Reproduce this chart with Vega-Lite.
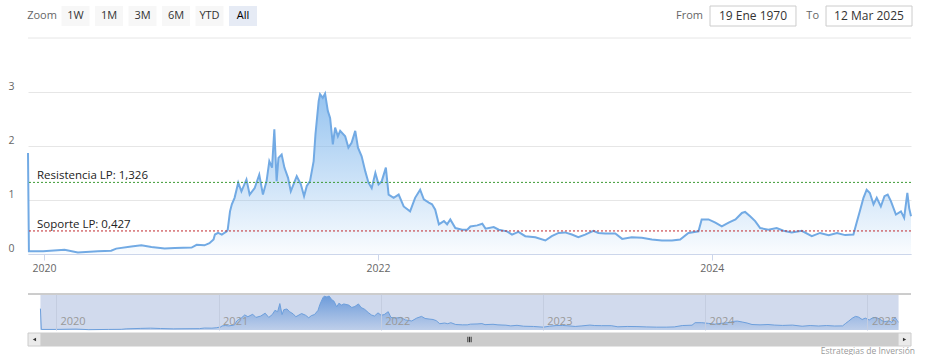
{
  "$schema": "https://vega.github.io/schema/vega-lite/v6.json",
  "background": "white",
  "padding": {"left": 7, "top": 5, "right": 0, "bottom": 0},
  "config": {"font": "Open Sans", "view": {"stroke": null}},
  "title": {"text": "Estrategias de Inversión", "orient": "bottom", "anchor": "end", "fontSize": 8.5, "fontWeight": "normal", "color": "#999999", "offset": 0},
  "datasets": {
    "series": [
      {"date":"2019-11-27","v":1.87},{"date":"2019-11-29","v":0.05},{"date":"2019-12-30","v":0.05},{"date":"2020-02-15","v":0.08},{"date":"2020-03-15","v":0.03},{"date":"2020-04-28","v":0.05},{"date":"2020-05-27","v":0.06},{"date":"2020-06-07","v":0.10},{"date":"2020-07-10","v":0.14},{"date":"2020-08-01","v":0.16},{"date":"2020-08-23","v":0.13},{"date":"2020-09-21","v":0.10},{"date":"2020-10-13","v":0.11},{"date":"2020-11-19","v":0.12},{"date":"2020-11-30","v":0.17},{"date":"2020-12-17","v":0.16},{"date":"2020-12-28","v":0.20},{"date":"2021-01-06","v":0.27},{"date":"2021-01-09","v":0.36},{"date":"2021-01-16","v":0.39},{"date":"2021-01-24","v":0.36},{"date":"2021-02-04","v":0.42},{"date":"2021-02-06","v":0.45},{"date":"2021-02-11","v":0.79},{"date":"2021-02-15","v":0.92},{"date":"2021-02-21","v":1.04},{"date":"2021-03-01","v":1.32},{"date":"2021-03-08","v":1.16},{"date":"2021-03-19","v":1.38},{"date":"2021-03-26","v":1.10},{"date":"2021-04-06","v":1.22},{"date":"2021-04-16","v":1.47},{"date":"2021-04-24","v":1.10},{"date":"2021-05-02","v":1.35},{"date":"2021-05-08","v":1.72},{"date":"2021-05-14","v":1.60},{"date":"2021-05-19","v":2.31},{"date":"2021-05-24","v":1.35},{"date":"2021-05-28","v":1.78},{"date":"2021-06-04","v":1.84},{"date":"2021-06-10","v":1.60},{"date":"2021-06-18","v":1.41},{"date":"2021-06-24","v":1.16},{"date":"2021-07-07","v":1.44},{"date":"2021-07-16","v":1.29},{"date":"2021-07-23","v":1.07},{"date":"2021-07-29","v":1.26},{"date":"2021-08-05","v":1.35},{"date":"2021-08-13","v":1.72},{"date":"2021-08-17","v":2.22},{"date":"2021-08-24","v":2.83},{"date":"2021-08-27","v":2.96},{"date":"2021-09-02","v":2.89},{"date":"2021-09-07","v":2.97},{"date":"2021-09-13","v":2.65},{"date":"2021-09-18","v":2.52},{"date":"2021-09-24","v":2.03},{"date":"2021-09-29","v":2.34},{"date":"2021-10-05","v":2.18},{"date":"2021-10-10","v":2.28},{"date":"2021-10-21","v":2.18},{"date":"2021-10-28","v":1.97},{"date":"2021-11-04","v":2.06},{"date":"2021-11-12","v":2.28},{"date":"2021-11-18","v":1.97},{"date":"2021-11-26","v":1.81},{"date":"2021-12-04","v":1.53},{"date":"2021-12-11","v":1.32},{"date":"2021-12-18","v":1.22},{"date":"2021-12-26","v":1.50},{"date":"2022-01-02","v":1.29},{"date":"2022-01-09","v":1.35},{"date":"2022-01-18","v":1.60},{"date":"2022-01-24","v":1.10},{"date":"2022-02-04","v":1.04},{"date":"2022-02-15","v":1.10},{"date":"2022-02-26","v":0.88},{"date":"2022-03-12","v":0.79},{"date":"2022-03-23","v":1.04},{"date":"2022-04-03","v":1.19},{"date":"2022-04-11","v":1.01},{"date":"2022-04-22","v":0.95},{"date":"2022-04-29","v":0.92},{"date":"2022-05-06","v":0.82},{"date":"2022-05-14","v":0.55},{"date":"2022-05-25","v":0.61},{"date":"2022-06-01","v":0.55},{"date":"2022-06-08","v":0.64},{"date":"2022-06-19","v":0.48},{"date":"2022-07-04","v":0.45},{"date":"2022-07-15","v":0.45},{"date":"2022-07-22","v":0.51},{"date":"2022-08-06","v":0.53},{"date":"2022-08-17","v":0.56},{"date":"2022-08-24","v":0.47},{"date":"2022-09-11","v":0.50},{"date":"2022-09-22","v":0.45},{"date":"2022-10-10","v":0.42},{"date":"2022-10-21","v":0.36},{"date":"2022-11-04","v":0.41},{"date":"2022-11-19","v":0.33},{"date":"2022-12-11","v":0.31},{"date":"2023-01-02","v":0.25},{"date":"2023-01-16","v":0.33},{"date":"2023-01-31","v":0.39},{"date":"2023-02-14","v":0.40},{"date":"2023-03-01","v":0.36},{"date":"2023-03-15","v":0.31},{"date":"2023-03-30","v":0.36},{"date":"2023-04-17","v":0.43},{"date":"2023-04-28","v":0.39},{"date":"2023-05-13","v":0.38},{"date":"2023-06-04","v":0.38},{"date":"2023-06-19","v":0.28},{"date":"2023-07-10","v":0.31},{"date":"2023-08-01","v":0.30},{"date":"2023-08-23","v":0.27},{"date":"2023-09-14","v":0.25},{"date":"2023-10-06","v":0.25},{"date":"2023-10-24","v":0.27},{"date":"2023-11-11","v":0.39},{"date":"2023-12-03","v":0.42},{"date":"2023-12-10","v":0.64},{"date":"2023-12-25","v":0.64},{"date":"2024-01-09","v":0.58},{"date":"2024-01-23","v":0.51},{"date":"2024-02-07","v":0.58},{"date":"2024-02-22","v":0.64},{"date":"2024-03-07","v":0.76},{"date":"2024-03-14","v":0.78},{"date":"2024-03-25","v":0.70},{"date":"2024-04-05","v":0.61},{"date":"2024-04-16","v":0.48},{"date":"2024-05-04","v":0.45},{"date":"2024-05-22","v":0.48},{"date":"2024-06-06","v":0.43},{"date":"2024-06-24","v":0.40},{"date":"2024-07-16","v":0.43},{"date":"2024-08-07","v":0.33},{"date":"2024-08-25","v":0.39},{"date":"2024-09-13","v":0.35},{"date":"2024-10-01","v":0.39},{"date":"2024-10-19","v":0.35},{"date":"2024-11-06","v":0.36},{"date":"2024-11-13","v":0.58},{"date":"2024-11-20","v":0.79},{"date":"2024-11-28","v":1.04},{"date":"2024-12-05","v":1.19},{"date":"2024-12-12","v":1.13},{"date":"2024-12-20","v":0.92},{"date":"2024-12-27","v":1.04},{"date":"2025-01-05","v":0.88},{"date":"2025-01-13","v":1.07},{"date":"2025-01-20","v":1.10},{"date":"2025-01-27","v":0.98},{"date":"2025-02-07","v":0.73},{"date":"2025-02-18","v":0.79},{"date":"2025-02-25","v":0.67},{"date":"2025-03-04","v":1.13},{"date":"2025-03-08","v":0.85},{"date":"2025-03-12","v":0.70}
    ]
  },
  "spacing": 0,
  "vconcat": [
    {
      "spacing": 419,
      "hconcat": [
        {
          "width": 229,
          "height": 20,
          "data": {"values": [{"label": "Zoom"}, {"label": "1W"}, {"label": "1M"}, {"label": "3M"}, {"label": "6M"}, {"label": "YTD"}, {"label": "All"}]},
          "encoding": {"x": {"field": "label", "type": "nominal", "axis": {"labels": false, "ticks": false, "domain": false, "title": null, "minExtent": 11, "maxExtent": 11}, "scale": {"domain": ["Zoom", "1W", "1M", "3M", "6M", "YTD", "All"], "paddingInner": 0.164, "paddingOuter": 0}}},
          "layer": [
            {
              "transform": [{"filter": "datum.label != 'Zoom'"}],
              "mark": {"type": "rect"},
              "encoding": {"fill": {"condition": {"test": "datum.label == 'All'", "value": "#e6ebf5"}, "value": "#f7f7f7"}}
            },
            {
              "mark": {"type": "text", "fontSize": 11},
              "encoding": {
                "text": {"field": "label"},
                "color": {"condition": [{"test": "datum.label == 'Zoom'", "value": "#666666"}, {"test": "datum.label == 'All'", "value": "#000000"}], "value": "#333333"},
                "fontWeight": {"condition": {"test": "datum.label == 'All'", "value": "bold"}, "value": "normal"}
              }
            }
          ]
        },
        {
          "width": 202,
          "height": 20,
          "data": {"values": [{"field": "From", "value": "19 Ene 1970"}, {"field": "To", "value": "12 Mar 2025"}]},
          "encoding": {"x": {"field": "field", "type": "nominal", "axis": {"labels": false, "ticks": false, "domain": false, "title": null, "minExtent": 11, "maxExtent": 11}, "scale": {"domain": ["From", "To"], "paddingInner": 0.259, "paddingOuter": 0}}},
          "layer": [
            {"mark": {"type": "rect", "fill": "white", "stroke": "#cccccc", "strokeWidth": 1}},
            {"mark": {"type": "text", "fontSize": 12, "color": "#333333"}, "encoding": {"text": {"field": "value"}}},
            {"mark": {"type": "text", "fontSize": 11, "color": "#666666", "align": "right", "dx": -7}, "encoding": {"x": {"field": "field", "type": "nominal", "bandPosition": 0}, "text": {"field": "field"}}}
          ]
        }
      ]
    },
    {
      "width": 883,
      "height": 216,
      "layer": [
        {
          "data": {"name": "series"},
          "mark": {"type": "area", "color": {"gradient": "linear", "x1": 0, "y1": 0, "x2": 0, "y2": 1, "stops": [{"offset": 0, "color": "rgba(124,181,236,0.8)"}, {"offset": 1, "color": "rgba(124,181,236,0.04)"}]}},
          "encoding": {
            "x": {"field": "date", "type": "temporal", "scale": {"domain": [{"year": 2019, "month": 11, "date": 27}, {"year": 2025, "month": 3, "date": 12}]},
              "axis": {"title": null, "values": [{"year": 2020, "month": 1, "date": 1}, {"year": 2022, "month": 1, "date": 1}, {"year": 2024, "month": 1, "date": 1}], "format": "%Y", "grid": false, "domainColor": "#ccd6eb", "tickColor": "#ccd6eb", "tickSize": 6, "labelPadding": 3, "labelColor": "#666666", "labelFontSize": 10.5, "labelFlush": false, "minExtent": 39, "maxExtent": 39}},
            "y": {"field": "v", "type": "quantitative", "scale": {"domain": [0, 4], "nice": false},
              "axis": {"title": null, "values": [0, 1, 2, 3], "format": "d", "grid": true, "gridColor": "#e6e6e6", "domain": false, "ticks": false, "labelAlign": "right", "labelPadding": 14, "labelBaseline": "alphabetic", "labelOffset": -3, "labelColor": "#666666", "labelFontSize": 10.5, "minExtent": 20, "maxExtent": 20}}
          }
        },
        {
          "data": {"name": "series"},
          "mark": {"type": "line", "color": "#72aae4", "strokeWidth": 2},
          "encoding": {"x": {"field": "date", "type": "temporal"}, "y": {"field": "v", "type": "quantitative"}}
        },
        {
          "data": {"values": [{"top": 4}]},
          "mark": {"type": "rule", "color": "#e6e6e6", "strokeWidth": 1},
          "encoding": {"y": {"field": "top", "type": "quantitative"}}
        },
        {
          "data": {"values": [{"label": "Resistencia LP: 1,326", "level": 1.326, "kind": "res"}, {"label": "Soporte LP: 0,427", "level": 0.427, "kind": "sup"}]},
          "mark": {"type": "rule", "strokeDash": [2, 2], "strokeWidth": 1},
          "encoding": {"y": {"field": "level", "type": "quantitative"}, "color": {"field": "kind", "type": "nominal", "scale": {"domain": ["res", "sup"], "range": ["#3d9b35", "#c0282d"]}, "legend": null}}
        },
        {
          "data": {"values": [{"label": "Resistencia LP: 1,326", "level": 1.326, "kind": "res"}, {"label": "Soporte LP: 0,427", "level": 0.427, "kind": "sup"}]},
          "mark": {"type": "text", "align": "left", "baseline": "alphabetic", "dx": 9, "dy": -3, "fontSize": 11.5, "color": "#222222"},
          "encoding": {"x": {"datum": {"year": 2019, "month": 11, "date": 27}, "type": "temporal"}, "y": {"field": "level", "type": "quantitative"}, "text": {"field": "label"}}
        }
      ]
    },
    {
      "width": 883,
      "height": 36,
      "data": {"name": "series", "format": {"parse": {"date": "date"}}},
      "encoding": {
        "x": {"field": "date", "type": "temporal", "scale": {"domain": [{"year": 2019, "month": 10, "date": 30}, {"year": 2025, "month": 4, "date": 9}]},
          "axis": {"title": null, "values": [{"year": 2020, "month": 1, "date": 1}, {"year": 2021, "month": 1, "date": 1}, {"year": 2022, "month": 1, "date": 1}, {"year": 2023, "month": 1, "date": 1}, {"year": 2024, "month": 1, "date": 1}, {"year": 2025, "month": 1, "date": 1}], "format": "%Y", "grid": true, "gridColor": "#c4cde0", "domain": false, "ticks": false, "tickSize": 0, "labelAlign": "left", "labelOffset": 4, "labelBaseline": "bottom", "labelPadding": -4, "labelColor": "#999999", "labelFontSize": 11, "labelFlush": false, "zindex": 1, "minExtent": 0, "maxExtent": 0}},
        "y": {"field": "v", "type": "quantitative", "scale": {"domain": [0, 3.15], "nice": false}, "axis": null}
      },
      "layer": [
        {
          "transform": [{"aggregate": [{"op": "min", "field": "date", "as": "start"}, {"op": "max", "field": "date", "as": "end"}]}],
          "mark": {"type": "rect", "fill": "#d1daed"},
          "encoding": {"x": {"field": "start", "type": "temporal"}, "x2": {"field": "end"}, "y": null}
        },
        {
          "mark": {"type": "area", "color": {"gradient": "linear", "x1": 0, "y1": 0, "x2": 0, "y2": 1, "stops": [{"offset": 0, "color": "rgba(84,140,214,0.8)"}, {"offset": 1, "color": "rgba(84,140,214,0.15)"}]}}
        },
        {
          "mark": {"type": "line", "color": "#6d9fdc", "strokeWidth": 1}
        },
        {
          "mark": {"type": "rule", "color": "#cccccc", "strokeWidth": 1},
          "encoding": {"x": null, "y": {"datum": 3.15}}
        },
        {
          "transform": [{"aggregate": [{"op": "min", "field": "date", "as": "start"}, {"op": "max", "field": "date", "as": "end"}]}, {"fold": ["start", "end"], "as": ["edge", "d"]}],
          "mark": {"type": "point", "shape": "M-0.5,-1H0.5V1H-0.5Z", "size": 144, "filled": true, "fill": "#f2f2f2", "stroke": "#999999", "strokeWidth": 1, "opacity": 1},
          "encoding": {"x": {"field": "d", "type": "temporal"}, "y": {"datum": 1.68}}
        },
        {
          "transform": [{"aggregate": [{"op": "min", "field": "date", "as": "start"}, {"op": "max", "field": "date", "as": "end"}]}, {"fold": ["start", "end"], "as": ["edge", "d"]}],
          "mark": {"type": "point", "shape": "M-0.17,-0.5V0.5M0.17,-0.5V0.5", "size": 144, "filled": false, "stroke": "#999999", "strokeWidth": 1, "opacity": 1},
          "encoding": {"x": {"field": "d", "type": "temporal"}, "y": {"datum": 1.68}}
        }
      ]
    },
    {
      "width": 883,
      "height": 13,
      "data": {"name": "series", "format": {"parse": {"date": "date"}}},
      "transform": [
        {"aggregate": [{"op": "min", "field": "date", "as": "start"}, {"op": "max", "field": "date", "as": "end"}]},
        {"calculate": "(time(datum.start) + time(datum.end)) / 2", "as": "mid"}
      ],
      "layer": [
        {"mark": {"type": "rect", "fill": "#ebebeb", "stroke": "#cccccc", "strokeWidth": 1}, "encoding": {}},
        {
          "mark": {"type": "rect", "fill": "#cccccc"},
          "encoding": {"x": {"field": "start", "type": "temporal", "scale": {"domain": [{"year": 2019, "month": 10, "date": 30}, {"year": 2025, "month": 4, "date": 9}]}, "axis": null}, "x2": {"field": "end"}}
        },
        {
          "mark": {"type": "point", "shape": "triangle-left", "size": 14, "filled": true, "color": "#333333", "opacity": 1},
          "encoding": {"x": {"field": "start", "type": "temporal"}, "xOffset": {"value": -6}}
        },
        {
          "mark": {"type": "point", "shape": "triangle-right", "size": 14, "filled": true, "color": "#333333", "opacity": 1},
          "encoding": {"x": {"field": "end", "type": "temporal"}, "xOffset": {"value": 6}}
        },
        {
          "mark": {"type": "point", "shape": "M-0.6,-1V1M0,-1V1M0.6,-1V1", "size": 30, "filled": false, "stroke": "#333333", "strokeWidth": 1, "opacity": 1},
          "encoding": {"x": {"field": "mid", "type": "temporal"}}
        }
      ]
    }
  ]
}
